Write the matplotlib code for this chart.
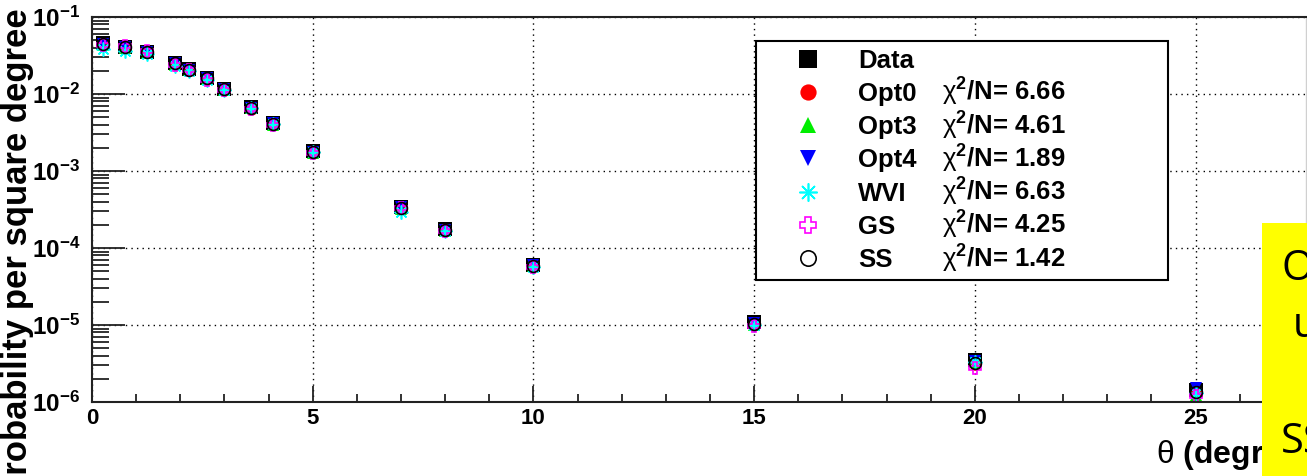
import matplotlib
matplotlib.use('Agg')
import matplotlib.pyplot as plt
from matplotlib.patches import Rectangle
from matplotlib.ticker import FixedLocator, LogLocator, MultipleLocator, NullFormatter, FixedFormatter

plt.rcParams['font.family'] = ['Liberation Sans', 'DejaVu Sans']
plt.rcParams['mathtext.fontset'] = 'custom'
plt.rcParams['mathtext.rm'] = 'Liberation Sans'
plt.rcParams['mathtext.it'] = 'Liberation Sans:italic'
plt.rcParams['mathtext.bf'] = 'Liberation Sans:bold'

# angular distance (degrees) and probability per square degree
theta = [0.25, 0.75, 1.25, 1.88, 2.2, 2.6, 3.0, 3.6, 4.1, 5, 7, 8, 10, 15, 20, 25]
data = [0.046, 0.041, 0.035, 0.025, 0.021, 0.016, 0.0116, 0.0067, 0.0042, 0.0018,
        3.4e-4, 1.75e-4, 6.0e-5, 1.1e-5, 3.5e-6, 1.45e-6]
opt0 = [0.044, 0.040, 0.035, 0.024, 0.0205, 0.0158, 0.0114, 0.0064, 0.0041, 0.00175,
        3.3e-4, 1.7e-4, 5.9e-5, 1.02e-5, 3.1e-6, 1.3e-6]
opt3 = [0.043, 0.040, 0.034, 0.024, 0.0202, 0.0155, 0.0113, 0.0065, 0.0040, 0.00172,
        3.2e-4, 1.68e-4, 5.8e-5, 1.0e-5, 3.3e-6, 1.25e-6]
opt4 = [0.045, 0.041, 0.035, 0.025, 0.0208, 0.0160, 0.0117, 0.0066, 0.0042, 0.00178,
        3.4e-4, 1.72e-4, 6.0e-5, 1.06e-5, 3.4e-6, 1.5e-6]
wvi = [0.038, 0.036, 0.033, 0.023, 0.020, 0.0152, 0.0112, 0.0066, 0.0041, 0.00176,
       2.9e-4, 1.65e-4, 5.6e-5, 1.0e-5, 3.3e-6, 1.3e-6]
gs = [0.043, 0.042, 0.036, 0.024, 0.0205, 0.0150, 0.0113, 0.0064, 0.0040, 0.00172,
      3.3e-4, 1.66e-4, 5.7e-5, 9.6e-6, 2.8e-6, 1.2e-6]
ss = [0.045, 0.041, 0.035, 0.025, 0.0207, 0.0159, 0.0115, 0.0066, 0.0041, 0.00177,
      3.35e-4, 1.7e-4, 5.9e-5, 1.04e-5, 3.2e-6, 1.35e-6]

names = ['Data', 'Opt0', 'Opt3', 'Opt4', 'WVI', 'GS', 'SS']
chi2 = ['', '6.66', '4.61', '1.89', '6.63', '4.25', '1.42']
x_major = [0, 5, 10, 15, 20, 25]
y_exponents = [-6, -5, -4, -3, -2, -1]

series = [data, opt0, opt3, opt4, wvi, gs, ss]
styles = [
    dict(marker='s', ms=9.8, mfc='black', mec='black', mew=0),
    dict(marker='o', ms=9, mfc='red', mec='red', mew=0),
    dict(marker='^', ms=9, mfc='#00ee00', mec='#00ee00', mew=0),
    dict(marker='v', ms=9, mfc='blue', mec='blue', mew=0),
    dict(marker=(8, 2, 0), ms=10, mfc='none', mec='cyan', mew=1.2),
    dict(marker='P', ms=9, mfc='none', mec='magenta', mew=1.2),
    dict(marker='o', ms=8.5, mfc='none', mec='black', mew=1.2),
]

fig = plt.figure(figsize=(13.07, 4.76), dpi=100)
ax = fig.add_axes([92 / 1307, 74 / 476, 1214 / 1307, 385 / 476])

handles = []
for vals, st in zip(series, styles):
    h, = ax.plot(theta, vals, linestyle='none', **st)
    handles.append(h)

ax.set_yscale('log')
ax.set_xlim(0, 27.5)
ax.set_ylim(1e-6, 1e-1)

ax.xaxis.set_major_locator(FixedLocator(x_major))
ax.xaxis.set_major_formatter(FixedFormatter([str(v) for v in x_major]))
ax.xaxis.set_minor_locator(MultipleLocator(1))
ax.yaxis.set_major_locator(FixedLocator([10.0 ** e for e in y_exponents]))
ax.yaxis.set_major_formatter(FixedFormatter([r'$\mathbf{10^{%d}}$' % e for e in y_exponents]))
ax.yaxis.set_minor_locator(LogLocator(base=10, subs=range(2, 10)))
ax.yaxis.set_minor_formatter(NullFormatter())

ax.tick_params(which='both', direction='in', top=False, right=False, width=1.3, color='#222222')
ax.tick_params(axis='x', which='major', length=11.5, pad=4.5, labelsize=16)
ax.tick_params(axis='x', which='minor', length=6)
ax.tick_params(axis='y', which='major', length=24, pad=8.5, labelsize=17.5)
ax.tick_params(axis='y', which='minor', length=12)
for lab in ax.get_xticklabels():
    lab.set_fontweight('bold')

ax.grid(which='major', color='black', linestyle=(0, (1, 3)), linewidth=1.0)
for side in ['left', 'bottom', 'top']:
    ax.spines[side].set_linewidth(1.5)
    ax.spines[side].set_color('#222222')
ax.spines['right'].set_color('#d0d0d0')
ax.spines['right'].set_linewidth(1.0)

leg = ax.legend(handles, names, loc='upper left',
                bbox_to_anchor=(664 / 1214, 0.3, 412 / 1214, (402 - 41) / 385 - 0.3),
                mode='expand', borderaxespad=0, borderpad=0.3, handlelength=3.45,
                handletextpad=0.22, labelspacing=0.36, markerscale=1.3, fancybox=False,
                framealpha=1, edgecolor='black', prop=dict(size=18.5, weight='bold'))
leg.get_frame().set_linewidth(1.5)
leg.set_zorder(5)

# chi2/N column next to the model names
fig.canvas.draw()
inv = fig.transFigure.inverted()
for txt, val in zip(leg.get_texts(), chi2):
    if not val:
        continue
    px, py = txt.get_transform().transform(txt.get_position())
    fx, fy = inv.transform((942, py))
    fig.text(fx, fy, r'$\mathrm{\chi}^{\mathbf{2}}$/N= ' + val, fontsize=18.5,
             fontweight='bold', va='baseline', ha='left', zorder=6)

fig.text(1 / 1307, 1 - 8 / 476, 'Probability per square degree', rotation=90,
         ha='left', va='top', fontsize=25, fontweight='bold')
fig.text(1156 / 1307, 1 - 455 / 476, r'$\mathrm{\theta}$ (degrees)', ha='left',
         va='center', fontsize=23, fontweight='bold', zorder=3)

# yellow note box on the right edge
fig.patches.append(Rectangle((1262 / 1307, 0), 45 / 1307, 1 - 223 / 476,
                             transform=fig.transFigure, facecolor='#ffff00',
                             edgecolor='none', zorder=10))
note_font = dict(family='Open Sans', fontsize=30, color='black', zorder=11, va='baseline')
fig.text(1281 / 1307, 1 - 280 / 476, 'O', **note_font)
fig.text(1293 / 1307, 1 - 337 / 476, 'u', **note_font)
fig.text(1281 / 1307, 1 - 453 / 476, 'SS', **note_font)

fig.savefig('out.png', dpi=100)
